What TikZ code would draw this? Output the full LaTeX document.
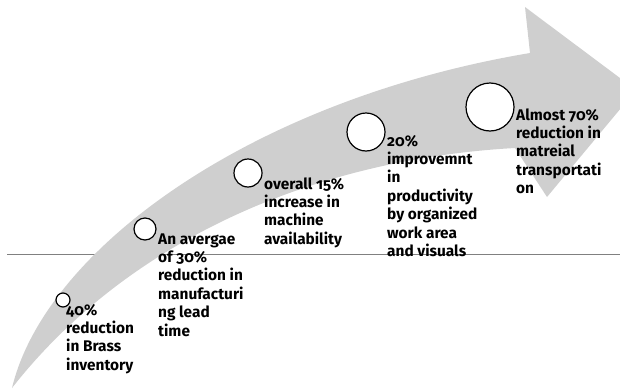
\documentclass[tikz,border=0pt]{standalone}
\usepackage{fontspec}
\setmainfont{Fira Sans}[Numbers=OldStyle]
\definecolor{bandgray}{RGB}{207,207,207}
\begin{document}
\begin{tikzpicture}[x=1pt,y=-1pt,
  milestone/.style={circle,draw=black,line width=1.2pt,fill=white,inner sep=0pt},
  gain/.style={anchor=north west,inner sep=0pt,align=left,font=\bfseries\fontsize{15.4}{18.4}\selectfont}]
\useasboundingbox (0,0) rectangle (620,388);
\clip (0,0) rectangle (620,388);
\draw[gray,line width=0.8pt] (7,254)--(620,254);
% curved arrow, tail at bottom left
\fill[bandgray] (12,388) .. controls (45,250) and (250,100) .. (530,53) -- (525,7) -- (636,90)
  -- (547,197) -- (515,148) .. controls (300,160) and (120,250) .. (12,388) -- cycle;
\node[milestone,minimum size=14pt] (c1) at (63,300) {};
\node[milestone,minimum size=22pt] (c2) at (145,229) {};
\node[milestone,minimum size=28pt] (c3) at (248,173) {};
\node[milestone,minimum size=38pt] (c4) at (366,132) {};
\node[milestone,minimum size=48pt] (c5) at (490,107) {};
\node[gain] (t1) at (66,302) {\strut 40\%\\reduction\\in Brass\\inventory};
\node[gain] (t2) at (158,231) {\strut An avergae\\of 30\%\\reduction in\\manufacturi\\ng lead\\time};
\node[gain] (t3) at (264,176) {\strut overall 15\%\\increase in\\machine\\availability};
\node[gain] (t4) at (387,133) {\strut 20\%\\improvemnt\\in\\productivity\\by organized\\work area\\and visuals};
\node[gain] (t5) at (516,107) {\strut Almost 70\%\\reduction in\\matreial\\transportati\\on};
\end{tikzpicture}
\end{document}
